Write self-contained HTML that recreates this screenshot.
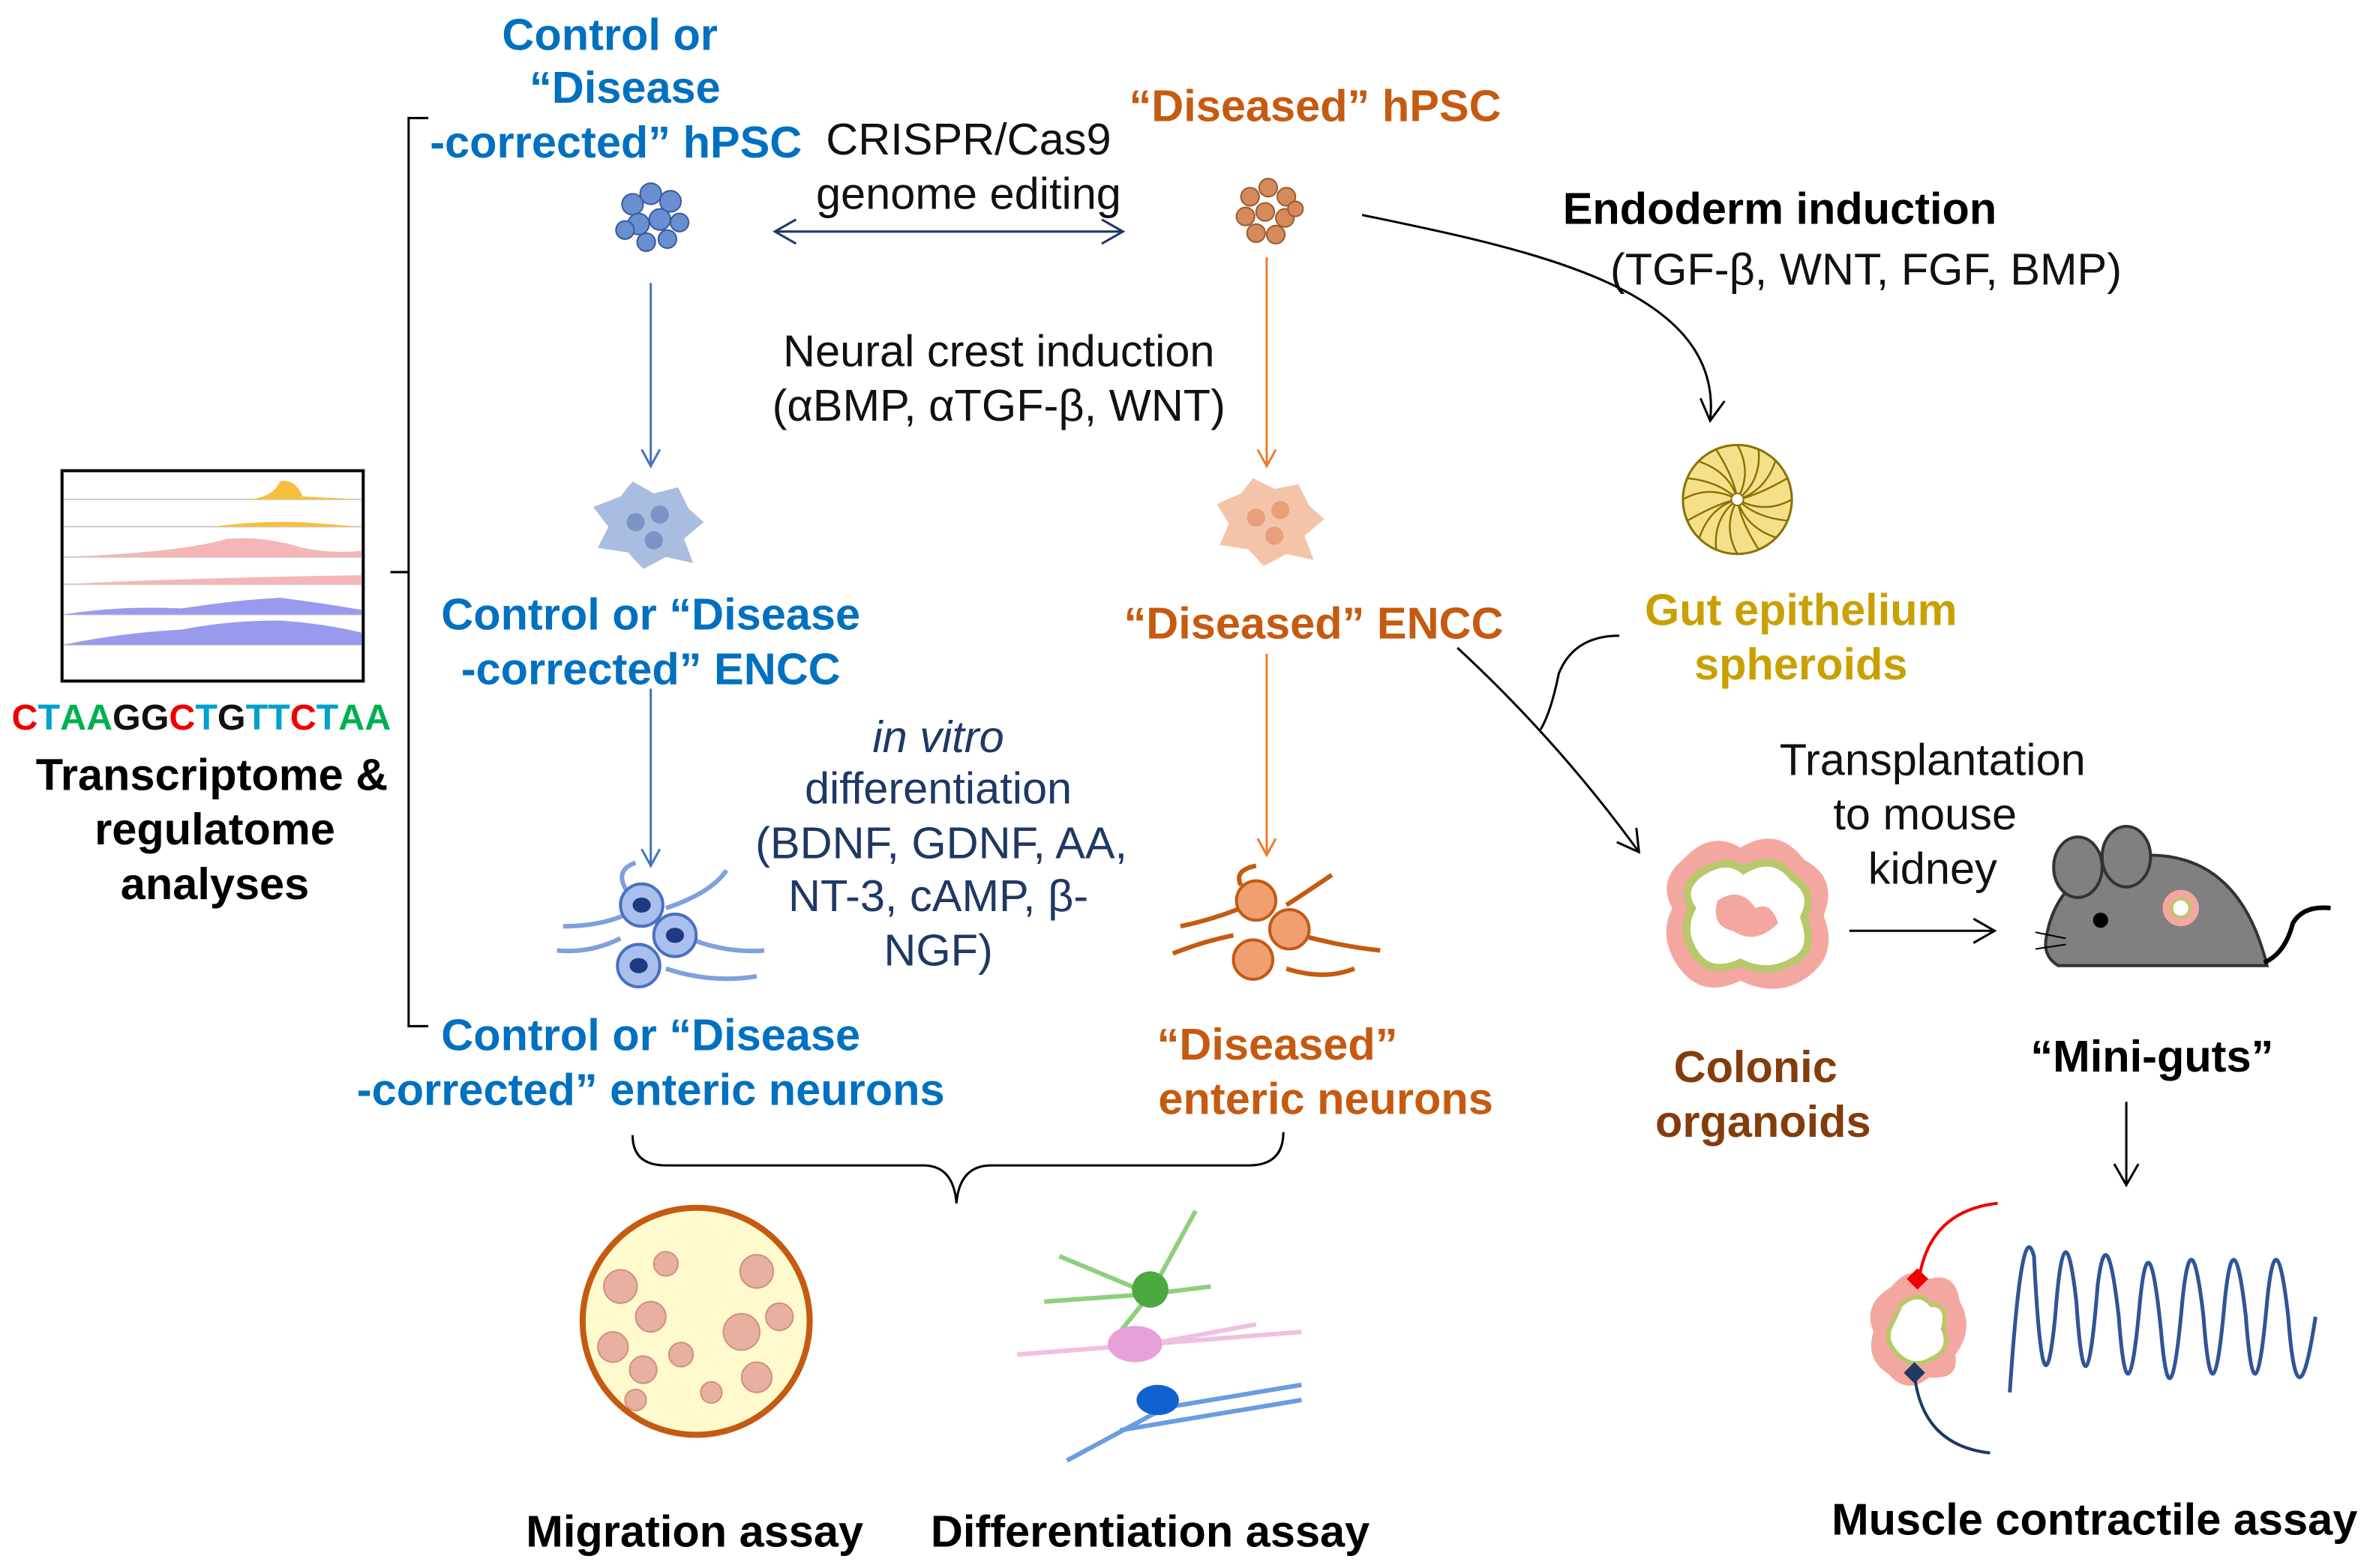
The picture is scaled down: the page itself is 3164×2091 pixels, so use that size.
<!DOCTYPE html>
<html><head><meta charset="utf-8"><style>
html,body{margin:0;padding:0;background:#fff;}
svg{display:block;width:3164px;height:2091px;}
text{font-family:"Liberation Sans",Arial,sans-serif;}
.b{font-weight:bold;font-size:29.5px;fill:#0070c0;text-anchor:middle;}
.o{font-weight:bold;font-size:29.5px;fill:#c55a11;text-anchor:middle;}
.k{font-size:29.5px;fill:#111;text-anchor:middle;}
.n{font-size:29.5px;fill:#1f3864;text-anchor:middle;}
.kb{font-weight:bold;font-size:29.5px;fill:#000;text-anchor:middle;}
</style></head><body>
<svg viewBox="0 0 1568 1036" preserveAspectRatio="none" xmlns="http://www.w3.org/2000/svg">
<defs>
<marker id="ab" markerWidth="14" markerHeight="14" refX="12" refY="7" orient="auto" markerUnits="userSpaceOnUse"><path d="M1,1 L12,7 L1,13" fill="none" stroke="#4472c4" stroke-width="1.5"/></marker>
<marker id="ao" markerWidth="14" markerHeight="14" refX="12" refY="7" orient="auto" markerUnits="userSpaceOnUse"><path d="M1,1 L12,7 L1,13" fill="none" stroke="#ed7d31" stroke-width="1.5"/></marker>
<marker id="ak" markerWidth="18" markerHeight="18" refX="15" refY="9" orient="auto" markerUnits="userSpaceOnUse"><path d="M1,1 L15,9 L1,17" fill="none" stroke="#000" stroke-width="1.5"/></marker>
<marker id="an" markerWidth="18" markerHeight="18" refX="15" refY="9" orient="auto-start-reverse" markerUnits="userSpaceOnUse"><path d="M1,1 L15,9 L1,17" fill="none" stroke="#1f3864" stroke-width="1.5"/></marker>
</defs>

<path d="M283,78 L270,78 L270,678 L283,678 M270,378 L258,378" fill="none" stroke="#000" stroke-width="1.5"/>

<rect x="41" y="311" width="199" height="139" fill="#fff" stroke="#000" stroke-width="2"/>
<g stroke="#ccc" stroke-width="1"><line x1="42" y1="330" x2="239" y2="330"/><line x1="42" y1="348" x2="239" y2="348"/><line x1="42" y1="368" x2="239" y2="368"/><line x1="42" y1="386" x2="239" y2="386"/><line x1="42" y1="406" x2="239" y2="406"/><line x1="42" y1="426" x2="239" y2="426"/></g>
<path d="M160,330 Q180,330 185,318 Q195,316 200,328 L239,330 L160,330Z" fill="#f5c040"/>
<path d="M140,348 Q170,344 200,345 L239,348Z" fill="#f5c040"/>
<path d="M42,368 Q120,365 150,356 Q175,354 200,362 Q220,366 239,364 L239,368Z" fill="#f4b6b6"/>
<path d="M42,386 Q120,382 239,380 L239,386Z" fill="#f4b6b6"/>
<path d="M42,406 Q80,400 120,402 Q160,396 185,395 Q210,398 239,403 L239,406Z" fill="#9999ee"/>
<path d="M42,426 Q80,418 120,416 Q150,410 185,410 Q215,412 239,418 L239,426Z" fill="#9999ee"/>

<text x="133" y="482" style="font-weight:bold;font-size:24px" text-anchor="middle"><tspan fill="#e00">C</tspan><tspan fill="#00a0d0">T</tspan><tspan fill="#00b050">AA</tspan><tspan fill="#111">GG</tspan><tspan fill="#e00">C</tspan><tspan fill="#00a0d0">T</tspan><tspan fill="#111">G</tspan><tspan fill="#00a0d0">TT</tspan><tspan fill="#e00">C</tspan><tspan fill="#00a0d0">T</tspan><tspan fill="#00b050">AA</tspan></text>
<text class="kb" x="140" y="522">Transcriptome &amp;</text>
<text class="kb" x="142" y="558">regulatome</text>
<text class="kb" x="142" y="594">analyses</text>

<text class="b" x="403" y="33">Control or</text>
<text class="b" x="413" y="68">“Disease</text>
<text class="b" x="407" y="104">-corrected” hPSC</text>
<text class="k" x="640" y="102">CRISPR/Cas9</text>
<text class="k" x="640" y="138">genome editing</text>
<line x1="512" y1="153" x2="742" y2="153" stroke="#1f3864" stroke-width="1.5" marker-start="url(#an)" marker-end="url(#an)"/>
<text class="o" x="869" y="80">“Diseased” hPSC</text>

<g fill="#6a8fd0" stroke="#3a5a9a" stroke-width="1">
<circle cx="418" cy="135" r="7"/><circle cx="430" cy="128" r="7"/><circle cx="443" cy="133" r="7"/><circle cx="422" cy="148" r="7"/><circle cx="436" cy="145" r="7"/><circle cx="449" cy="147" r="6"/><circle cx="427" cy="160" r="6"/><circle cx="441" cy="158" r="6"/><circle cx="413" cy="152" r="6"/></g>
<g fill="#d48a5a" stroke="#9a5a30" stroke-width="1">
<circle cx="826" cy="130" r="6"/><circle cx="838" cy="124" r="6"/><circle cx="850" cy="130" r="6"/><circle cx="823" cy="143" r="6"/><circle cx="836" cy="140" r="6"/><circle cx="849" cy="144" r="6"/><circle cx="830" cy="154" r="6"/><circle cx="843" cy="155" r="6"/><circle cx="856" cy="138" r="5"/></g>

<text class="kb" x="1176" y="148">Endoderm induction</text>
<text class="k" x="1233" y="188">(TGF-β, WNT, FGF, BMP)</text>
<path d="M900,142 C1010,165 1140,190 1130,278" fill="none" stroke="#000" stroke-width="1.5" marker-end="url(#ak)"/>

<line x1="430" y1="187" x2="430" y2="308" stroke="#4472c4" stroke-width="1.5" marker-end="url(#ab)"/>
<line x1="837" y1="170" x2="837" y2="308" stroke="#ed7d31" stroke-width="1.5" marker-end="url(#ao)"/>
<text class="k" x="660" y="242">Neural crest induction</text>
<text class="k" x="660" y="278">(αBMP, αTGF-β, WNT)</text>

<path d="M392,335 L410,328 L418,318 L432,326 L448,322 L455,336 L465,345 L452,356 L458,372 L440,368 L425,376 L415,365 L395,362 L402,348Z" fill="#a9bde0"/>
<circle cx="420" cy="345" r="6" fill="#7a94c6"/><circle cx="436" cy="340" r="6" fill="#7a94c6"/><circle cx="432" cy="357" r="6" fill="#7a94c6"/>
<path d="M804,333 L820,326 L828,316 L842,323 L858,320 L865,334 L875,343 L862,354 L868,370 L850,366 L835,374 L825,363 L806,360 L812,346Z" fill="#f3c4a8"/>
<circle cx="830" cy="342" r="6" fill="#e8a07a"/><circle cx="846" cy="337" r="6" fill="#e8a07a"/><circle cx="842" cy="354" r="6" fill="#e8a07a"/>

<g transform="translate(1148,330)">
<circle r="36" fill="#f5e08a" stroke="#8a7000" stroke-width="1.5"/>
<g stroke="#8a7000" stroke-width="1.2" fill="none">
<path d="M0,-36 Q10,-18 0,0"/><path d="M25,-25 Q18,-5 0,0"/><path d="M36,0 Q18,10 0,0"/><path d="M25,25 Q5,18 0,0"/><path d="M0,36 Q-10,18 0,0"/><path d="M-25,25 Q-18,5 0,0"/><path d="M-36,0 Q-18,-10 0,0"/><path d="M-25,-25 Q-5,-18 0,0"/>
<path d="M14,-33 Q16,-12 0,0"/><path d="M33,-14 Q12,-2 0,0"/><path d="M33,14 Q12,12 0,0"/><path d="M14,33 Q2,14 0,0"/><path d="M-14,33 Q-16,12 0,0"/><path d="M-33,14 Q-12,2 0,0"/><path d="M-33,-14 Q-12,-12 0,0"/><path d="M-14,-33 Q-2,-14 0,0"/></g>
<circle r="4" fill="#fff" stroke="#8a7000"/></g>

<text class="b" x="430" y="416">Control or “Disease</text>
<text class="b" x="430" y="452">-corrected” ENCC</text>
<text class="o" x="868" y="422">“Diseased” ENCC</text>
<text x="1190" y="413" text-anchor="middle" style="font-weight:bold;font-size:29.5px;fill:#c9a000">Gut epithelium</text>
<text x="1190" y="449" text-anchor="middle" style="font-weight:bold;font-size:29.5px;fill:#c9a000">spheroids</text>

<line x1="430" y1="455" x2="430" y2="572" stroke="#4472c4" stroke-width="1.5" marker-end="url(#ab)"/>
<line x1="837" y1="432" x2="837" y2="565" stroke="#ed7d31" stroke-width="1.5" marker-end="url(#ao)"/>

<text class="n" x="620" y="497" font-style="italic">in vitro</text>
<text class="n" x="620" y="531">differentiation</text>
<text class="n" x="622" y="567">(BDNF, GDNF, AA,</text>
<text class="n" x="620" y="602">NT-3, cAMP, β-</text>
<text class="n" x="620" y="638">NGF)</text>

<g fill="none" stroke="#7fa0dd" stroke-width="3">
<path d="M368,628 Q390,630 410,620 M372,612 Q395,612 412,605 M440,600 Q470,590 480,575 M455,620 Q480,630 505,628 M440,640 Q470,650 500,645 M415,590 Q405,575 420,570"/></g>
<g fill="#a9c0ee" stroke="#4a70c0" stroke-width="2">
<circle cx="424" cy="598" r="14"/><circle cx="446" cy="618" r="14"/><circle cx="422" cy="638" r="14"/></g>
<g fill="#1f3a80"><ellipse cx="424" cy="598" rx="6" ry="5"/><ellipse cx="446" cy="618" rx="6" ry="5"/><ellipse cx="422" cy="638" rx="6" ry="5"/></g>
<g fill="none" stroke="#c55a11" stroke-width="3">
<path d="M775,630 Q795,622 815,618 M780,612 Q800,608 820,600 M850,598 Q870,585 880,578 M860,618 Q885,625 912,628 M850,640 Q875,648 895,640 M820,585 Q815,575 830,572"/></g>
<g fill="#f0a070" stroke="#c55a11" stroke-width="2">
<circle cx="830" cy="595" r="13"/><circle cx="852" cy="614" r="13"/><circle cx="828" cy="634" r="13"/></g>

<path d="M963,428 Q1030,490 1083,563" fill="none" stroke="#000" stroke-width="1.5" marker-end="url(#ak)"/>
<path d="M1070,420 Q1040,420 1030,445 Q1025,470 1018,482" fill="none" stroke="#000" stroke-width="1.5"/>

<path d="M1112,568 Q1130,548 1150,560 Q1175,545 1192,568 Q1215,580 1205,605 Q1215,630 1195,645 Q1175,660 1150,648 Q1125,660 1110,640 Q1095,620 1105,600 Q1095,582 1112,568Z" fill="#f4a7a0"/>
<path d="M1122,578 Q1140,565 1152,575 Q1172,563 1185,580 Q1200,590 1192,606 Q1200,628 1185,635 Q1168,645 1150,636 Q1130,645 1120,630 Q1110,615 1118,600 Q1110,588 1122,578Z" fill="#fff" stroke="#b8c86a" stroke-width="5"/>
<path d="M1135,595 Q1150,585 1160,600 Q1170,595 1175,610 Q1160,625 1145,615 Q1130,612 1135,595Z" fill="#f4a7a0"/>
<text x="1160" y="715" text-anchor="middle" style="font-weight:bold;font-size:29.5px;fill:#843c0c">Colonic</text>
<text x="1165" y="751" text-anchor="middle" style="font-weight:bold;font-size:29.5px;fill:#843c0c">organoids</text>

<text class="k" x="1277" y="512">Transplantation</text>
<text class="k" x="1272" y="548">to mouse</text>
<text class="k" x="1277" y="584">kidney</text>
<line x1="1222" y1="615" x2="1318" y2="615" stroke="#000" stroke-width="1.5" marker-end="url(#ak)"/>

<path d="M1352,620 Q1360,570 1420,565 Q1480,565 1498,638 L1360,638 Q1350,632 1352,620Z" fill="#808080" stroke="#333" stroke-width="2"/>
<ellipse cx="1373" cy="573" rx="16" ry="20" fill="#808080" stroke="#333" stroke-width="2"/>
<ellipse cx="1405" cy="566" rx="16" ry="20" fill="#808080" stroke="#333" stroke-width="2"/>
<circle cx="1388" cy="608" r="5" fill="#000"/>
<path d="M1496,636 Q1510,630 1515,610 Q1522,598 1540,600" fill="none" stroke="#000" stroke-width="3"/>
<path d="M1365,620 L1345,616 M1365,624 L1345,627" stroke="#000" stroke-width="1"/>
<circle cx="1441" cy="600" r="12" fill="#f4a7a0"/><circle cx="1441" cy="600" r="6" fill="#fff" stroke="#b8c86a" stroke-width="2"/>
<text class="kb" x="1422" y="708">“Mini-guts”</text>
<line x1="1405" y1="728" x2="1405" y2="783" stroke="#000" stroke-width="1.5" marker-end="url(#ak)"/>

<text class="b" x="430" y="694">Control or “Disease</text>
<text class="b" x="430" y="730">-corrected” enteric neurons</text>
<text class="o" x="844" y="700">“Diseased”</text>
<text class="o" x="876" y="736">enteric neurons</text>

<path d="M418,750 Q418,770 440,770 L610,770 Q630,770 632,795 Q634,770 655,770 L825,770 Q848,770 848,748" fill="none" stroke="#000" stroke-width="1.5"/>

<circle cx="460" cy="873" r="75" fill="#fffacd" stroke="#c55a11" stroke-width="4"/>
<g fill="#e8b0a0" stroke="#d09080" stroke-width="1">
<circle cx="410" cy="850" r="11"/><circle cx="430" cy="870" r="10"/><circle cx="405" cy="890" r="10"/><circle cx="425" cy="905" r="9"/><circle cx="440" cy="835" r="8"/><circle cx="500" cy="840" r="11"/><circle cx="490" cy="880" r="12"/><circle cx="515" cy="870" r="9"/><circle cx="500" cy="910" r="10"/><circle cx="470" cy="920" r="7"/><circle cx="450" cy="895" r="8"/><circle cx="420" cy="925" r="7"/></g>

<g stroke-width="3" fill="none">
<path d="M700,830 L760,855 L790,800 M760,855 L800,850 M760,855 L740,880 M690,860 L760,855" stroke="#8fcf7f"/>
<path d="M672,895 L760,888 L830,875 M760,888 L860,880" stroke="#f0c0e0"/>
<path d="M705,965 L770,930 L860,915 M740,945 L860,925" stroke="#6a9de0"/></g>
<circle cx="760" cy="852" r="12" fill="#4ca840"/>
<ellipse cx="750" cy="888" rx="18" ry="12" fill="#e8a0d8"/>
<ellipse cx="765" cy="925" rx="14" ry="10" fill="#1060d0"/>

<text class="kb" x="459" y="1022">Migration assay</text>
<text class="kb" x="760" y="1022">Differentiation assay</text>
<text class="kb" x="1384" y="1014">Muscle contractile assay</text>

<path d="M1250,850 Q1262,835 1275,845 Q1292,840 1295,860 Q1305,878 1292,895 Q1295,912 1275,910 Q1260,922 1248,908 Q1232,898 1238,880 Q1230,862 1250,850Z" fill="#f4a7a0"/>
<path d="M1256,862 Q1268,852 1276,862 Q1288,862 1284,878 Q1290,892 1276,898 Q1264,905 1254,895 Q1244,885 1250,875Z" fill="#fff" stroke="#b8c86a" stroke-width="3"/>
<path d="M1268,845 Q1275,800 1320,795" fill="none" stroke="#e00" stroke-width="2"/>
<rect x="1262" y="840" width="10" height="10" fill="#e00" transform="rotate(45 1267 845)"/>
<path d="M1265,908 Q1270,955 1315,960" fill="none" stroke="#1f3864" stroke-width="2"/>
<rect x="1260" y="902" width="10" height="10" fill="#1f3864" transform="rotate(45 1265 907)"/>
<path d="M1328,920 Q1336,800 1344,830 Q1350,950 1358,870 Q1364,790 1372,860 Q1378,950 1386,850 Q1392,800 1400,870 Q1406,950 1414,860 Q1420,800 1428,880 Q1434,950 1442,860 Q1448,800 1456,870 Q1462,950 1470,860 Q1476,800 1484,870 Q1490,950 1498,860 Q1504,800 1512,870 Q1518,950 1530,870" fill="none" stroke="#2f5597" stroke-width="2.5"/>
</svg>
</body></html>
